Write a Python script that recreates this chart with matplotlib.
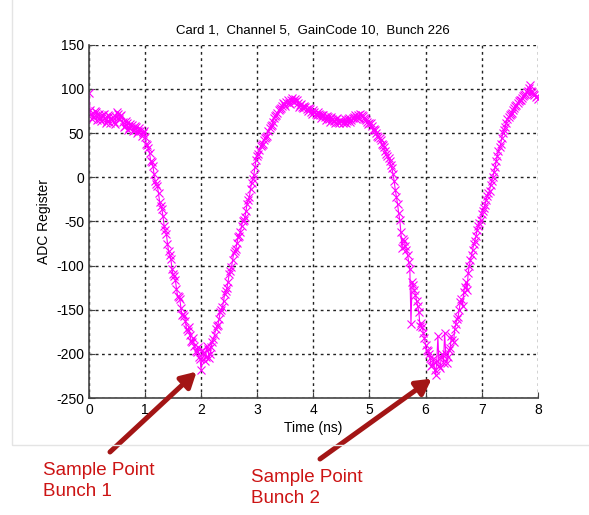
import numpy as np
import matplotlib.pyplot as plt
from matplotlib.patches import Rectangle

plt.rcParams['font.family'] = ['Liberation Sans', 'DejaVu Sans']
plt.rcParams['axes.unicode_minus'] = False

# ADC samples: even samples at 0, 0.04, ... ns
adc_even = [95, 72, 68, 74, 70, 66, 71, 67, 64, 69, 66, 63, 68, 72, 69, 63, 58, 61, 56, 59,
            54, 57, 52, 54, 50, 46, 36, 27, 17, 4, -8, -18, -32, -44, -60, -75, -88, -104, -112, -126,
            -135, -148, -155, -163, -174, -178, -186, -191, -198, -203, -218, -199, -203, -194, -200, -186, -178, -168, -160, -150,
            -140, -129, -118, -106, -94, -84, -74, -66, -55, -48, -38, -26, -13, -2, 12, 24, 31, 36, 42, 46,
            52, 58, 63, 69, 73, 77, 81, 83, 85, 84, 88, 86, 89, 84, 82, 80, 81, 77, 78, 74,
            76, 72, 74, 70, 71, 68, 69, 66, 68, 64, 66, 63, 65, 62, 66, 64, 67, 65, 68, 66,
            70, 72, 69, 66, 63, 62, 58, 55, 50, 46, 42, 36, 30, 24, 18, 10, -4, -22, -40, -62,
            -70, -78, -88, -104, -118, -128, -140, -152, -165, -176, -190, -197, -205, -212, -218, -208, -214, -204, -210, -200,
            -203, -193, -184, -172, -160, -150, -138, -130, -118, -108, -94, -82, -72, -60, -52, -42, -35, -26, -18, -9,
            0, 12, 24, 34, 45, 54, 62, 68, 72, 76, 81, 84, 87, 90, 93, 97, 101, 98, 94, 91,
            89]
# odd samples at 0.02, 0.06, ... ns
adc_odd = [76, 66, 75, 65, 72, 64, 72, 62, 70, 61, 68, 60, 74, 66, 70, 57, 64, 53, 60, 52,
           58, 50, 56, 47, 52, 38, 33, 19, 13, -4, -10, -28, -36, -55, -64, -84, -92, -110, -116, -134,
           -138, -156, -157, -172, -170, -185, -182, -197, -192, -206, -196, -208, -191, -205, -192, -183, -172, -167, -153, -147,
           -132, -125, -110, -102, -86, -81, -68, -62, -50, -45, -30, -22, -6, 3, 20, 26, 35, 38, 45, 47,
           56, 59, 67, 70, 76, 78, 84, 81, 88, 83, 90, 85, 87, 80, 83, 78, 80, 75, 77, 72,
           74, 70, 72, 67, 70, 65, 68, 63, 66, 62, 67, 61, 64, 63, 62, 66, 63, 67, 70, 68,
           67, 71, 67, 65, 60, 61, 54, 53, 47, 44, 38, 34, 26, 22, 14, 4, -14, -30, -48, -80,
           -72, -82, -96, -166, -122, -133, -146, -168, -170, -182, -196, -200, -214, -206, -224, -180, -216, -200, -176, -210,
           -196, -180, -186, -166, -158, -141, -146, -124, -128, -100, -88, -75, -66, -55, -48, -38, -31, -21, -15, -4,
           6, 18, 30, 38, 50, 57, 66, 70, 73, 79, 82, 86, 88, 92, 94, 98, 104, 96, 93, 92]

t_even = np.arange(len(adc_even)) * 0.04
t_odd = np.arange(len(adc_odd)) * 0.04 + 0.02
time_ns = np.concatenate([t_even, t_odd])
adc = np.concatenate([adc_even, adc_odd])
order = np.argsort(time_ns)

fig = plt.figure(figsize=(5.89, 5.15), dpi=100)
ax = fig.add_axes([0.151, 0.227, 0.762, 0.686])

ax.plot(time_ns[order], adc[order], color='#ff00ff', lw=0.8, marker='x', ms=5.5, mew=0.8)

ax.set_xlim(0, 8)
ax.set_ylim(-250, 150)
ax.set_xticks(range(0, 9))
ax.set_yticks(range(-250, 151, 50))
ax.grid(True, color='#222222', linestyle=(0, (2, 2.5)), lw=1)
for s in ['top', 'right']:
    ax.spines[s].set_visible(False)
for s in ['left', 'bottom']:
    ax.spines[s].set_color('#444444')
    ax.spines[s].set_linewidth(1.2)
ax.tick_params(direction='in', length=4, labelsize=10, color='#444444')

ax.set_title('Card 1,  Channel 5,  GainCode 10,  Bunch 226', fontsize=9.5, pad=8)
ax.set_xlabel('Time (ns)', fontsize=10, labelpad=3)
ax.set_ylabel('ADC Register', fontsize=10, labelpad=4)

# faint figure frame
fig.add_artist(Rectangle((12 / 589, 1 - 445 / 515), 1.0, 0.98, transform=fig.transFigure,
                         fill=False, edgecolor='#e4e4e4', lw=1))

arrow = dict(arrowstyle='-|>,head_length=0.9,head_width=0.5', color='#a31515', lw=3.6,
             shrinkA=0, shrinkB=0)
ax.annotate('', xy=(1.92, -220), xytext=(110 / 589, 1 - 452 / 515),
            textcoords='figure fraction', arrowprops=arrow, annotation_clip=False)
ax.annotate('', xy=(6.11, -228), xytext=(320 / 589, 1 - 459 / 515),
            textcoords='figure fraction', arrowprops=arrow, annotation_clip=False)

fig.text(43 / 589, 1 - 462 / 515, 'Sample Point\nBunch 1', fontsize=13.5, color='#cc1414',
         va='top', linespacing=1.3)
fig.text(251 / 589, 1 - 469 / 515, 'Sample Point\nBunch 2', fontsize=13.5, color='#cc1414',
         va='top', linespacing=1.3)

fig.savefig('out.png', dpi=100)
